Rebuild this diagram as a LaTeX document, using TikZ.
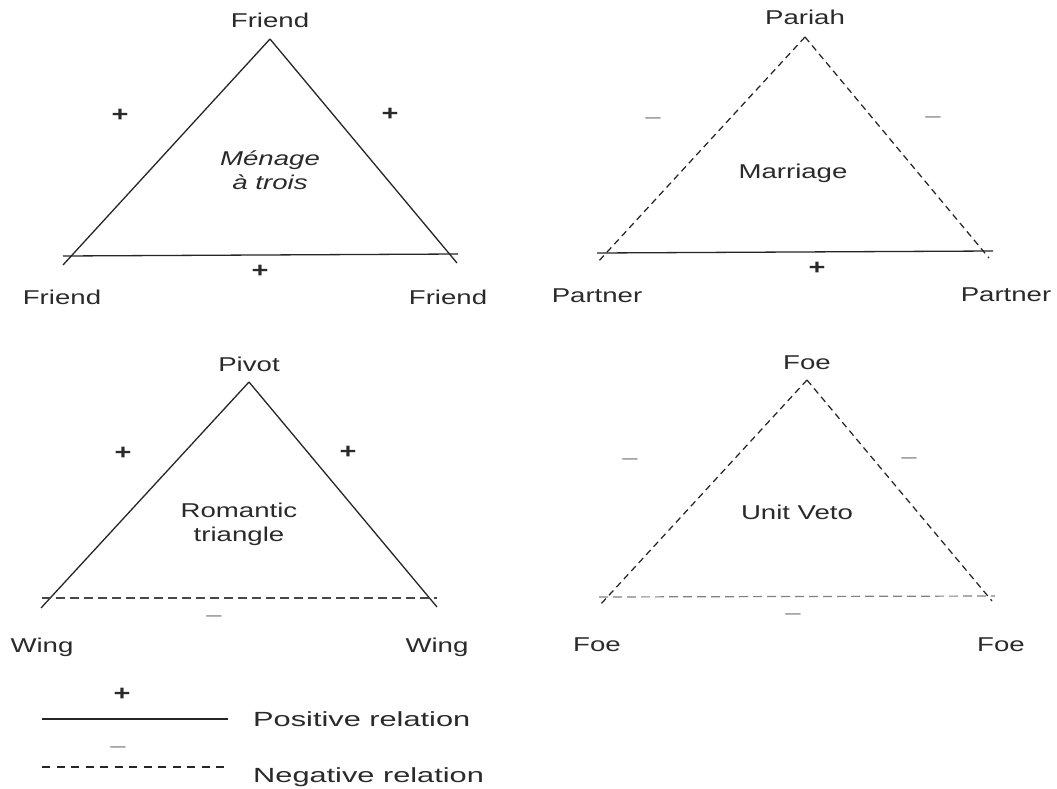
\documentclass[tikz,border=0pt]{standalone}
\usepackage{fontspec}
\newfontfamily\labfont[FakeStretch=1.38]{Liberation Sans}
\newfontfamily\legfont[FakeStretch=1.5]{Liberation Sans}
\definecolor{ink}{HTML}{2A2A2A}
\definecolor{lineink}{HTML}{262626}
\definecolor{minusink}{HTML}{8A8A8A}
\tikzset{
  lbl/.style={font=\labfont\fontsize{20}{24}\selectfont, text=ink, inner sep=0pt},
  leglbl/.style={font=\legfont\fontsize{20.5}{24}\selectfont, text=ink, inner sep=0pt},
  plussign/.style={font=\labfont\fontsize{21}{24}\selectfont\bfseries, text=ink, inner sep=0pt},
  minussign/.style={font=\labfont\fontsize{20}{24}\selectfont, text=minusink, inner sep=0pt},
  posline/.style={draw=lineink, line width=1.3pt},
  negside/.style={draw=lineink, line width=1.25pt, dash pattern=on 6.5pt off 4.5pt},
  negbase/.style={draw=lineink!85, line width=1.2pt, dash pattern=on 9pt off 5pt},
}
\begin{document}
\begin{tikzpicture}[x=1pt,y=-1pt]
\useasboundingbox (0,0) rectangle (1057,789);
\fill[white] (0,0) rectangle (1057,789);

% ---------- Triangle 1: Menage a trois ----------
\coordinate (a1) at (270,39);
\coordinate (l1) at (63,265);
\coordinate (r1) at (457,263);
\coordinate (bl1) at (63,256);
\coordinate (br1) at (458,254);
\draw[posline] (a1) -- (l1);
\draw[posline] (a1) -- (r1);
\draw[posline] (bl1) -- (br1);
\node[lbl] (t1top) at (270,20) {Friend};
\node[lbl] (t1l) at (62,297) {Friend};
\node[lbl] (t1r) at (448,297) {Friend};
\node[plussign] (p1a) at (120,115) {+};
\node[plussign] (p1b) at (390,114) {+};
\node[plussign] (p1c) at (260,271) {+};
\node[lbl, align=center, font=\labfont\fontsize{20}{24}\selectfont\itshape] (c1) at (270,170) {Ménage\\à trois};

% ---------- Triangle 2: Marriage ----------
\coordinate (a2) at (805,37);
\coordinate (l2) at (597,263);
\coordinate (r2) at (989,258);
\coordinate (bl2) at (597,253);
\coordinate (br2) at (993,251);
\draw[negside] (a2) -- (l2);
\draw[negside] (a2) -- (r2);
\draw[posline] (bl2) -- (br2);
\node[lbl] (t2top) at (805,17) {Pariah};
\node[lbl] (t2l) at (597,296) {Partner};
\node[lbl] (t2r) at (1006,295) {Partner};
\node[minussign] (m2a) at (653,121) {–};
\node[minussign] (m2b) at (933,120) {–};
\node[plussign] (p2c) at (817,268) {+};
\node[lbl] (c2) at (793,173) {Marriage};

% ---------- Triangle 3: Romantic triangle ----------
\coordinate (a3) at (249,382);
\coordinate (l3) at (41,608);
\coordinate (r3) at (437,607);
\coordinate (bl3) at (42,598);
\coordinate (br3) at (437,598);
\draw[posline] (a3) -- (l3);
\draw[posline] (a3) -- (r3);
\draw[negbase] (bl3) -- (br3);
\node[lbl] (t3top) at (249,364) {Pivot};
\node[lbl] (t3l) at (42,647) {Wing};
\node[lbl] (t3r) at (437,647) {Wing};
\node[plussign] (p3a) at (123,453) {+};
\node[plussign] (p3b) at (348,452) {+};
\node[minussign] (m3c) at (214,619) {–};
\node[lbl, align=center] (c3) at (239,524) {Romantic\\triangle};

% ---------- Triangle 4: Unit Veto ----------
\coordinate (a4) at (807,380);
\coordinate (l4) at (600,605);
\coordinate (r4) at (992,601);
\coordinate (bl4) at (599,597);
\coordinate (br4) at (995,596);
\draw[negside] (a4) -- (l4);
\draw[negside] (a4) -- (r4);
\draw[negbase, draw=gray] (bl4) -- (br4);
\node[lbl] (t4top) at (807,363) {Foe};
\node[lbl] (t4l) at (597,645) {Foe};
\node[lbl] (t4r) at (1001,645) {Foe};
\node[minussign] (m4a) at (630,462) {–};
\node[minussign] (m4b) at (909,461) {–};
\node[minussign] (m4c) at (793,617) {–};
\node[lbl] (c4) at (797,512) {Unit Veto};

% ---------- Legend ----------
\coordinate (lp1) at (42,719);
\coordinate (lp2) at (228,719);
\coordinate (ln1) at (42,767);
\coordinate (ln2) at (224,767);
\draw[posline, line width=1.1pt] (lp1) -- (lp2);
\draw[draw=lineink, line width=1.1pt, dash pattern=on 8pt off 6.5pt] (ln1) -- (ln2);
\node[plussign] (lgp) at (122,694) {+};
\node[minussign] (lgm) at (118,750) {–};
\node[leglbl, anchor=base west] (lpt) at (253,726) {Positive relation};
\node[leglbl, anchor=base west] (lnt) at (253,782) {Negative relation};
\end{tikzpicture}
\end{document}
